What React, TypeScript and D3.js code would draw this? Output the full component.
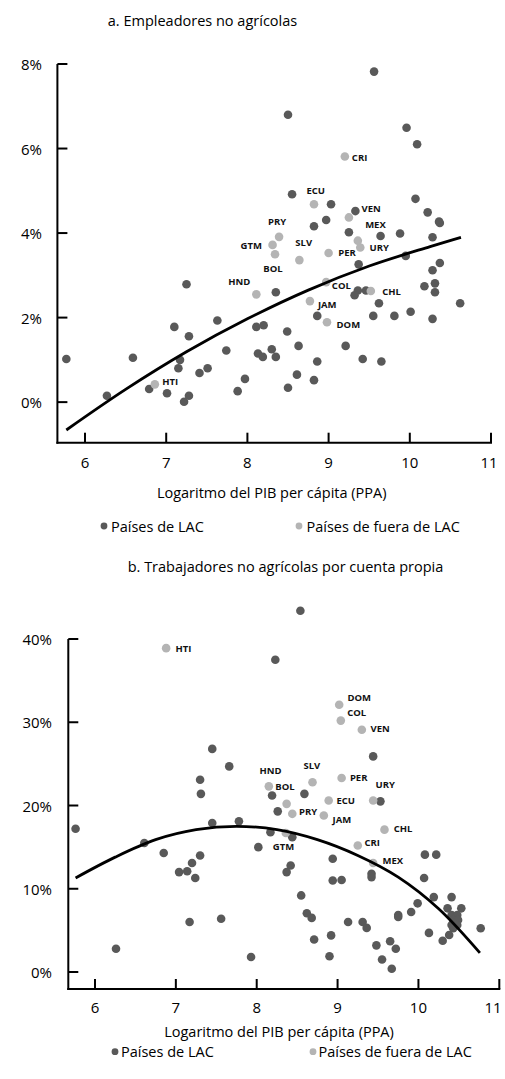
import React from "react";
import * as d3 from "d3";

// ---- Panel a: empleadores no agrícolas (% del empleo) vs. log PIB per cápita ----
const xTicks = [6, 7, 8, 9, 10, 11];
const yTicksA = [0, 2, 4, 6, 8];
const yTicksB = [0, 10, 20, 30, 40];

const lacA: [number, number][] = [
  [9.56, 7.82], [8.5, 6.8], [9.96, 6.49], [10.09, 6.1], [8.55, 4.92], [10.07, 4.81],
  [9.03, 4.68], [9.33, 4.52], [10.22, 4.49], [10.36, 4.27], [10.37, 4.24], [8.97, 4.31],
  [8.82, 4.16], [9.25, 4.02], [9.64, 3.93], [9.88, 3.99], [10.28, 3.9], [9.95, 3.46],
  [9.37, 3.26], [10.37, 3.29], [10.28, 3.12], [10.31, 2.81], [10.18, 2.74], [10.31, 2.6],
  [9.36, 2.64], [9.32, 2.53], [9.46, 2.64], [8.35, 2.6], [9.62, 2.34], [10.62, 2.34],
  [8.86, 2.04], [9.55, 2.04], [9.81, 2.04], [10.01, 2.14], [10.28, 1.97], [8.11, 1.78],
  [8.2, 1.82], [8.49, 1.67], [8.63, 1.33], [9.21, 1.33], [8.13, 1.15], [8.19, 1.07],
  [8.3, 1.25], [8.35, 1.07], [8.86, 0.96], [9.42, 1.02], [9.65, 0.96], [8.61, 0.65],
  [8.82, 0.52], [8.5, 0.34], [7.25, 2.79], [7.63, 1.93], [7.1, 1.78], [7.28, 1.56],
  [5.77, 1.02], [6.59, 1.05], [7.17, 1.0], [7.15, 0.8], [7.74, 1.22], [7.41, 0.69],
  [7.51, 0.8], [6.79, 0.31], [7.01, 0.21], [6.27, 0.15], [7.28, 0.15], [7.22, 0.01],
  [7.88, 0.26], [7.97, 0.55],
];

const namedA: { name: string; x: number; y: number }[] = [
  { name: "CRI", x: 9.2, y: 5.81 },
  { name: "ECU", x: 8.82, y: 4.68 },
  { name: "VEN", x: 9.25, y: 4.37 },
  { name: "PRY", x: 8.39, y: 3.91 },
  { name: "MEX", x: 9.36, y: 3.82 },
  { name: "GTM", x: 8.31, y: 3.72 },
  { name: "URY", x: 9.39, y: 3.66 },
  { name: "PER", x: 9.0, y: 3.53 },
  { name: "BOL", x: 8.34, y: 3.5 },
  { name: "SLV", x: 8.64, y: 3.36 },
  { name: "COL", x: 8.97, y: 2.84 },
  { name: "CHL", x: 9.52, y: 2.63 },
  { name: "HND", x: 8.11, y: 2.55 },
  { name: "JAM", x: 8.77, y: 2.39 },
  { name: "DOM", x: 8.98, y: 1.89 },
  { name: "HTI", x: 6.86, y: 0.42 },
];

// Fitted trend
const trendA: [number, number][] = [
  [5.77, -0.66], [6.5, 0.3], [7.25, 1.19], [8.0, 1.97], [8.75, 2.65],
  [9.5, 3.22], [10.25, 3.68], [10.63, 3.9],
];

// ---- Panel b: trabajadores no agrícolas por cuenta propia ----
const lacB: [number, number][] = [
  [8.54, 43.4], [8.23, 37.5], [7.45, 26.8], [7.66, 24.7], [7.3, 23.1], [7.31, 21.4],
  [8.19, 21.2], [9.44, 25.9], [8.59, 21.4], [9.53, 20.5], [8.26, 19.3], [8.17, 16.8],
  [8.44, 16.2], [8.02, 15.0], [8.94, 13.6], [10.08, 14.1], [10.22, 14.1], [8.42, 12.8],
  [8.37, 12.0], [9.42, 11.8], [9.42, 11.4], [8.94, 11.0], [9.05, 11.05], [10.07, 11.3],
  [8.55, 9.2], [10.19, 9.0], [10.41, 9.0], [9.99, 8.25], [9.91, 7.2], [9.75, 6.85],
  [9.75, 6.6], [10.36, 7.65], [10.53, 7.65], [10.41, 6.85], [10.48, 6.85], [10.43, 6.25],
  [10.49, 6.25], [10.41, 5.65], [10.48, 5.65], [10.43, 5.25], [10.77, 5.25], [8.62, 7.05],
  [8.68, 6.5], [9.13, 6.0], [9.31, 6.0], [9.36, 5.3], [10.13, 4.7], [10.38, 4.45],
  [10.3, 3.75], [8.71, 3.9], [8.92, 4.4], [9.48, 3.2], [9.65, 3.7], [9.72, 2.8],
  [8.9, 1.9], [9.55, 1.5], [9.67, 0.4], [7.93, 1.8], [5.76, 17.2], [6.61, 15.5],
  [6.85, 14.3], [7.45, 17.9], [7.78, 18.1], [7.04, 12.0], [7.14, 12.1], [7.2, 13.1],
  [7.3, 14.0], [7.24, 11.3], [7.17, 6.0], [7.56, 6.4], [6.26, 2.8],
];

const namedB: { name: string; x: number; y: number }[] = [
  { name: "HTI", x: 6.88, y: 38.9 },
  { name: "DOM", x: 9.02, y: 32.1 },
  { name: "COL", x: 9.04, y: 30.2 },
  { name: "VEN", x: 9.3, y: 29.1 },
  { name: "HND", x: 8.15, y: 22.3 },
  { name: "SLV", x: 8.69, y: 22.8 },
  { name: "PER", x: 9.05, y: 23.3 },
  { name: "BOL", x: 8.37, y: 20.2 },
  { name: "ECU", x: 8.89, y: 20.6 },
  { name: "URY", x: 9.44, y: 20.6 },
  { name: "PRY", x: 8.44, y: 19.0 },
  { name: "JAM", x: 8.83, y: 18.8 },
  { name: "CHL", x: 9.58, y: 17.1 },
  { name: "GTM", x: 8.36, y: 16.7 },
  { name: "CRI", x: 9.25, y: 15.2 },
  { name: "MEX", x: 9.44, y: 13.1 },
];

const trendB: [number, number][] = [
  [5.76, 11.3], [6.25, 13.8], [6.75, 15.9], [7.25, 17.1], [7.75, 17.5], [8.25, 17.1],
  [8.75, 15.9], [9.25, 14.0], [9.75, 11.4], [10.25, 7.6], [10.76, 2.3],
];

// Label placement relative to each dot (px)
const labelPosA: Record<string, [number, number]> = {
  CRI: [7, 1], ECU: [-7.6, -14], VEN: [12.7, -8.6], PRY: [-11, -15.7], MEX: [7.3, -15.7],
  GTM: [-32, 0.6], SLV: [-4, -17.3], PER: [9.6, 0], URY: [9.3, 0], BOL: [-11.7, 14.3],
  COL: [5.7, 3.7], CHL: [11.3, 1], JAM: [8, 3], DOM: [9.6, 2], HND: [-28, -12.6], HTI: [7.3, -3.3],
};
const labelPosB: Record<string, [number, number]> = {
  HTI: [9.4, 0], DOM: [8.3, -7.7], COL: [6.4, -7.7], VEN: [8.7, -1], HND: [-9.3, -16.3],
  BOL: [-11.3, -17.7], SLV: [-9, -16.3], PER: [8.3, -0.7], ECU: [7.7, 0], URY: [2.3, -15.6],
  PRY: [6.7, -2.6], JAM: [8.7, 4], CHL: [9.3, -1], CRI: [6.6, -3], MEX: [9.3, -2.7],
  GTM: [-13, 14],
};

const DARK = "#595959";
const LIGHT = "#b4b4b4";
const FONT = "'Open Sans', 'Noto Sans', sans-serif";
const TEXT = 14.5;

type PanelProps = {
  title: string;
  titleX: number;
  titleY: number;
  lac: [number, number][];
  named: { name: string; x: number; y: number }[];
  trend: [number, number][];
  labelPos: Record<string, [number, number]>;
  yTicks: number[];
  xScale: d3.ScaleLinear<number, number>;
  yScale: d3.ScaleLinear<number, number>;
  yLabelEnd: number;
  xLabelY: number;
  xLabelMax: number;
  xTitleX: number;
  xTitleY: number;
  legendY: number;
  legendDots: [number, number, number, number];
};

function Panel(p: PanelProps) {
  const { xScale: x, yScale: y } = p;
  const [x0] = x.range();
  const [yBottom, yTop] = y.range();
  const xEnd = x(11);
  const line = d3
    .line<[number, number]>()
    .x((d) => x(d[0]))
    .y((d) => y(d[1]))
    .curve(d3.curveCatmullRom.alpha(0.5));
  const r = 4.3;
  return (
    <g fontFamily={FONT}>
      <text x={p.titleX} y={p.titleY} textAnchor="middle" dominantBaseline="central" fontSize={TEXT} fill="#000">
        {p.title}
      </text>
      {/* axes */}
      <line x1={x0} x2={x0} y1={yTop} y2={yBottom + 1} stroke="#000" strokeWidth={2} />
      <line x1={x0 - 1} x2={xEnd + 1} y1={yBottom} y2={yBottom} stroke="#000" strokeWidth={2} />
      {p.yTicks.map((t) => (
        <g key={"y" + t}>
          <line x1={x0} x2={x0 + 10} y1={y(t)} y2={y(t)} stroke="#000" strokeWidth={2} />
          <text x={p.yLabelEnd} y={y(t)} textAnchor="end" dominantBaseline="central" fontSize={15} fill="#000">
            {t}%
          </text>
        </g>
      ))}
      {xTicks.map((t) => (
        <g key={"x" + t}>
          <line x1={x(t)} x2={x(t)} y1={yBottom} y2={yBottom - 10} stroke="#000" strokeWidth={2} />
          <text
            x={Math.min(x(t), p.xLabelMax)}
            y={p.xLabelY}
            textAnchor="middle"
            dominantBaseline="central"
            fontSize={15}
            fill="#000"
          >
            {t}
          </text>
        </g>
      ))}
      <text x={p.xTitleX} y={p.xTitleY} textAnchor="middle" dominantBaseline="central" fontSize={TEXT} fill="#000">
        Logaritmo del PIB per cápita (PPA)
      </text>
      {/* points */}
      {p.lac.map((d, i) => (
        <circle key={"d" + i} cx={x(d[0])} cy={y(d[1])} r={r} fill={DARK} />
      ))}
      {p.named.map((d) => (
        <circle key={"n" + d.name} cx={x(d.x)} cy={y(d.y)} r={r} fill={LIGHT} />
      ))}
      <path d={line(p.trend) || ""} fill="none" stroke="#000" strokeWidth={2.8} />
      {p.named.map((d) => {
        const [dx, dy] = p.labelPos[d.name];
        return (
          <text
            key={"l" + d.name}
            x={x(d.x) + dx}
            y={y(d.y) + dy}
            dominantBaseline="central"
            fontSize={9.5}
            fontWeight={700}
            fill="#111"
          >
            {d.name}
          </text>
        );
      })}
      {/* legend */}
      <circle cx={p.legendDots[0]} cy={p.legendY} r={3.4} fill={DARK} />
      <text x={p.legendDots[1]} y={p.legendY} dominantBaseline="central" fontSize={TEXT} fill="#000">
        Países de LAC
      </text>
      <circle cx={p.legendDots[2]} cy={p.legendY} r={3.4} fill={LIGHT} />
      <text x={p.legendDots[3]} y={p.legendY} dominantBaseline="central" fontSize={TEXT} fill="#000">
        Países de fuera de LAC
      </text>
    </g>
  );
}

export default function App() {
  const xA = d3.scaleLinear().domain([5.66, 11]).range([57.4, 491]);
  const yA = d3.scaleLinear().domain([-0.96, 8]).range([442.7, 64]);
  const xB = d3.scaleLinear().domain([5.67, 11]).range([68.3, 499.3]);
  const yB = d3.scaleLinear().domain([-2.04, 40]).range([989, 639]);
  return (
    <svg
      width={505}
      height={1079}
      style={{ position: "absolute", left: 0, top: 0, display: "block", background: "#fff" }}
    >
      <rect width={505} height={1079} fill="#fff" />
      <Panel
        title="a. Empleadores no agrícolas"
        titleX={202.5}
        titleY={20}
        lac={lacA}
        named={namedA}
        trend={trendA}
        labelPos={labelPosA}
        yTicks={yTicksA}
        xScale={xA}
        yScale={yA}
        yLabelEnd={42}
        xLabelY={461.7}
        xLabelMax={489}
        xTitleX={271.7}
        xTitleY={492.7}
        legendY={526}
        legendDots={[104, 111, 299, 306.5]}
      />
      <Panel
        title="b. Trabajadores no agrícolas por cuenta propia"
        titleX={285.5}
        titleY={566}
        lac={lacB}
        named={namedB}
        trend={trendB}
        labelPos={labelPosB}
        yTicks={yTicksB}
        xScale={xB}
        yScale={yB}
        yLabelEnd={52}
        xLabelY={1006.7}
        xLabelMax={493}
        xTitleX={279}
        xTitleY={1031}
        legendY={1051.7}
        legendDots={[115, 121, 313, 318.5]}
      />
    </svg>
  );
}
